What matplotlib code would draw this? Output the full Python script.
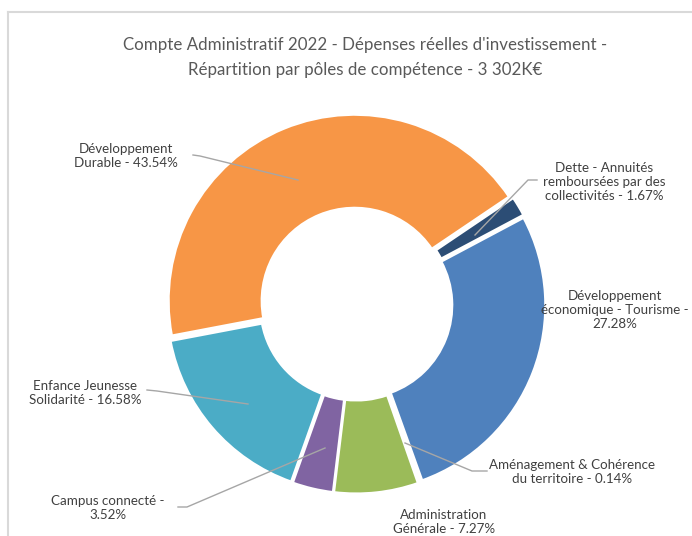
import matplotlib.pyplot as plt
from matplotlib.lines import Line2D

# data (Excel series order, clockwise)
labels = ['Développement\néconomique - Tourisme -\n27.28%',
          'Aménagement & Cohérence\ndu territoire - 0.14%',
          'Administration\nGénérale - 7.27%',
          'Campus connecté -\n3.52%',
          'Enfance Jeunesse\nSolidarité - 16.58%',
          'Développement\nDurable - 43.54%',
          'Dette - Annuités\nremboursées par des\ncollectivités - 1.67%']
values = [27.28, 0.14, 7.27, 3.52, 16.58, 43.54, 1.67]
colors = ['#4F81BD', '#C0504D', '#9BBB59', '#8064A2', '#4BACC6', '#F79646', '#2C4D75']

W, H = 692, 536
plt.rcParams['font.family'] = ['Lato', 'DejaVu Sans']

fig = plt.figure(figsize=(W / 100, H / 100), dpi=100)
ax = fig.add_axes([0, 0, 1, 1])
ax.set_xlim(0, W)
ax.set_ylim(0, H)
ax.set_aspect('equal')
ax.axis('off')

def Y(y):  # pixel row from top -> data y
    return H - y

cx, cy, r = 356, 304, 186
# explode is in data units (pixels here)
ax.pie(values, colors=colors, startangle=28, counterclock=False,
       center=(cx, Y(cy)), radius=r, explode=[3.5] * len(values),
       wedgeprops=dict(width=r * 0.5, edgecolor='white', linewidth=1.5))
ax.set_xlim(0, W)
ax.set_ylim(0, H)

# title
title_col = '#595959'
ax.text(365, Y(45), "Compte Administratif 2022 - Dépenses réelles d'investissement -",
        ha='center', va='center', fontsize=12.2, color=title_col)
ax.text(365, Y(70), "Répartition par pôles de compétence - 3 302K€",
        ha='center', va='center', fontsize=12.2, color=title_col)

# data labels: (x, y center) in pixels
label_pos = [(615, 310), (572, 472), (444, 522), (108, 508),
             (85, 393), (126, 156), (604, 182)]
for txt, (x, y) in zip(labels, label_pos):
    ax.text(x, Y(y), txt, ha='center', va='center', fontsize=9.6,
            color='#404040', linespacing=1.25)

# leader lines
leaders = [
    [(193, 155), (200, 156), (298, 180)],
    [(537, 180), (528, 180), (475, 235)],
    [(487, 471), (472, 471), (405, 443)],
    [(178, 507), (187, 507), (325, 448)],
    [(147, 390), (157, 391), (248, 404)],
]
for pts in leaders:
    ax.plot([p[0] for p in pts], [Y(p[1]) for p in pts], color='#A6A6A6', lw=1)

# chart border (left and top edges visible)
fig.add_artist(Line2D([8 / W, 8 / W], [0, 1 - 12 / H], color='#D9D9D9', lw=1.5))
fig.add_artist(Line2D([8 / W, 1], [1 - 12 / H, 1 - 12 / H], color='#D9D9D9', lw=1.5))

fig.savefig('out.png', dpi=100)
